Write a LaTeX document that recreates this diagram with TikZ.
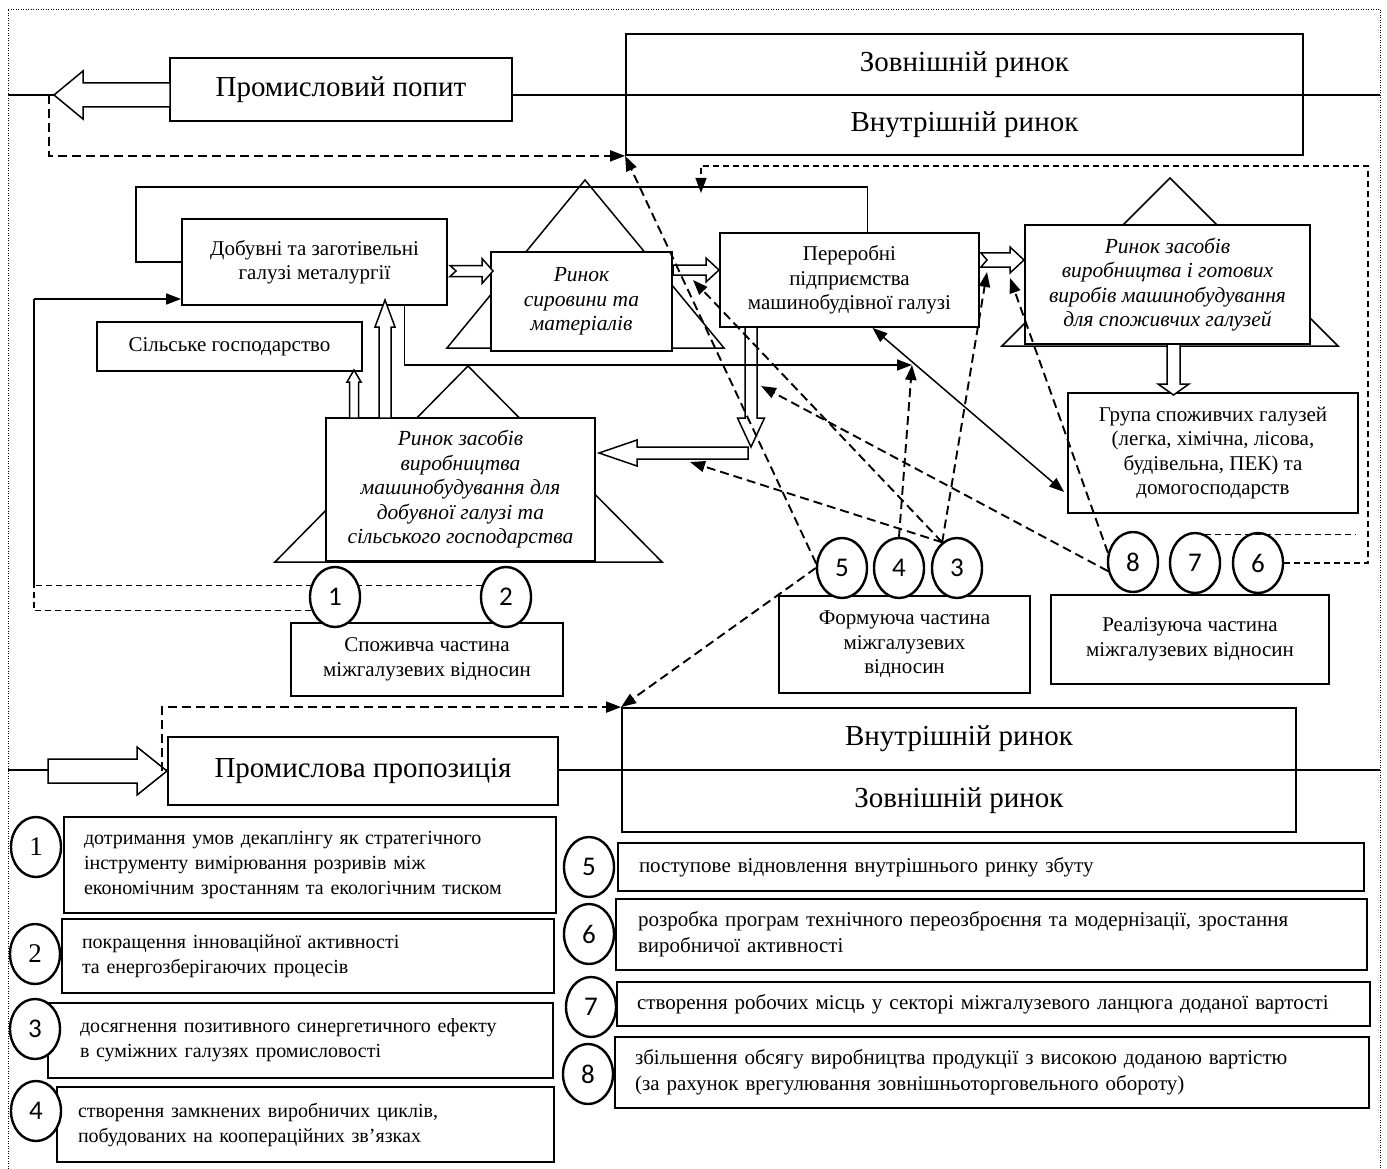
\documentclass[tikz,border=0pt]{standalone}
\usepackage{fontspec}
\setmainfont{Liberation Serif}
\newfontfamily\numfont{Carlito}
\usetikzlibrary{shapes.geometric,arrows.meta,calc,backgrounds}

\tikzset{
  box/.style={draw, line width=1.8pt, fill=white, align=center, inner sep=3pt},
  ttl/.style={font=\fontsize{29}{34}\selectfont},
  txt/.style={font=\fontsize{21}{24.5}\selectfont},
  itx/.style={font=\fontsize{21.5}{24.5}\selectfont\itshape},
  lgd/.style={draw, line width=1.8pt, fill=white, align=left, inner xsep=20pt, font=\fontsize{20}{25}\selectfont},
  lgdr/.style={lgd, font=\fontsize{21}{26}\selectfont},
  num/.style={draw, ellipse, line width=2.4pt, fill=white, minimum width=50pt, minimum height=60pt, inner sep=0pt, font=\numfont\fontsize{27}{27}\selectfont},
  dsh/.style={line width=1.9pt, dash pattern=on 9pt off 5pt},
  thn/.style={line width=1.3pt, dash pattern=on 6pt off 4pt},
  tip/.style={-{Triangle[length=15pt,width=11pt]}},
  hollow/.style={draw, line width=1.5pt, fill=white, line join=miter},
  mkt/.style={line width=1.5pt},
}
% hollow arrows: tail, head back, tip, axis, shaft half, head half (, tail notch)
\newcommand{\harr}[7]{\draw[hollow] (#1,#4-#5) -- (#2,#4-#5) -- (#2,#4-#6) -- (#3,#4) -- (#2,#4+#6) -- (#2,#4+#5) -- (#1,#4+#5) -- (#1+#7,#4) -- cycle;}
\newcommand{\varr}[6]{\draw[hollow] (#4-#5,#1) -- (#4-#5,#2) -- (#4-#6,#2) -- (#4,#3) -- (#4+#6,#2) -- (#4+#5,#2) -- (#4+#5,#1) -- cycle;}

\begin{document}
\begin{tikzpicture}[x=1pt,y=-1pt]
\useasboundingbox (0,0) rectangle (1387,1169);

% Frame
\draw[line width=0.8pt, dash pattern=on 1pt off 1.5pt] (8,1169) -- (8,9) -- (1380,9) -- (1380,1169);

% Axes
\draw[line width=1.5pt] (8,95) -- (1380,95);
\draw[line width=1.5pt] (8,770) -- (1380,770);

% Markets
\draw[mkt] (447,348) -- (585,180) -- (724,348) -- cycle;
\draw[mkt] (1002,346) -- (1170,178) -- (1338,346) -- cycle;
\draw[mkt] (275,562) -- (468,366) -- (662,562) -- cycle;

% Boxes
\node[box, ttl, minimum width=342pt, minimum height=63pt] (popyt) at (341,89.5) {Промисловий попит};
\node[box, ttl, minimum width=677pt, minimum height=61pt] (zov1) at (964.5,64.5) {Зовнішній ринок};
\node[box, ttl, minimum width=677pt, minimum height=60pt] (vnu1) at (964.5,125) {Внутрішній ринок};
\node[box, txt, minimum width=265pt, minimum height=86pt] (dob) at (314.5,262) {Добувні та заготівельні\\галузі металургії};
\node[box, txt, minimum width=265pt, minimum height=49pt] (sil) at (229.5,346.5) {Сільське господарство};
\node[box, itx, minimum width=181pt, minimum height=99pt] (syr) at (581.5,301.5) {Ринок\\сировини та\\матеріалів};
\node[box, txt, minimum width=259pt, minimum height=94pt] (per) at (849.5,280) {Переробні\\підприємства\\машинобудівної галузі};
\node[box, itx, minimum width=285pt, minimum height=119pt] (cons) at (1167.5,284.5) {Ринок засобів\\виробництва і готових\\виробів машинобудування\\для споживчих галузей};
\node[box, txt, minimum width=290pt, minimum height=120pt] (grp) at (1213,453) {Група споживчих галузей\\(легка, хімічна, лісова,\\будівельна, ПЕК) та\\домогосподарств};
\node[box, itx, minimum width=269pt, minimum height=143pt] (ext) at (460.5,489.5) {Ринок засобів\\виробництва\\машинобудування для\\добувної галузі та\\сільського господарства};
\node[box, txt, minimum width=272pt, minimum height=73pt] (spozh) at (427,659.5) {Споживча частина\\міжгалузевих відносин};
\node[box, txt, minimum width=251pt, minimum height=97pt] (form) at (904.5,644.5) {Формуюча частина\\міжгалузевих\\відносин};
\node[box, txt, minimum width=278pt, minimum height=89pt] (real) at (1190,639.5) {Реалізуюча частина\\міжгалузевих відносин};
\node[box, ttl, minimum width=390pt, minimum height=68pt] (prop) at (363,771) {Промислова пропозиція};
\node[box, ttl, minimum width=674pt, minimum height=62pt] (vnu2) at (959,739) {Внутрішній ринок};
\node[box, ttl, minimum width=674pt, minimum height=62pt] (zov2) at (959,801) {Зовнішній ринок};

% Hollow arrows
\harr{170}{83}{54}{95}{12}{24}{0}
\harr{450}{482}{493}{271}{5.5}{12.5}{6}
\harr{673}{706}{719}{270}{5}{12}{0}
\harr{981}{1010}{1024}{260}{7}{13}{6}
\varr{344}{384}{395}{1173.5}{6.5}{15.5}
\varr{327}{418}{447}{751}{6}{13.5}
\harr{748}{637}{599}{453}{6}{13}{0}
\varr{418}{382}{370}{354}{4.5}{7}
\varr{418}{327}{300}{385}{6}{10}
\harr{48}{137}{167}{771}{12}{24}{0}

% Points on the flows
\coordinate (pp) at (49,95);
\coordinate (lft) at (34,299);
\coordinate (m4) at (912,365);
\coordinate (h3) at (693,280);
\coordinate (h4a) at (987,272);
\coordinate (h4b) at (1010,278);
\coordinate (h6) at (761,386);
\coordinate (h7) at (690,462);
\coordinate (rt) at (1368,166);
\coordinate (dn) at (701,193);
\coordinate (r7) at (1356,538);
\coordinate (pr) at (162,771);

% Solid links
\draw[line width=1.5pt] (dob.west) -| (136,187) -| ($(per.north)+(18,0)$);
\draw[tip, line width=1.5pt] ($(dob.south)+(90,0)$) |- (m4);
\draw[tip, line width=1.5pt] (lft) -- (lft -| dob.west);
\draw[{Triangle[length=15pt,width=11pt]}-{Triangle[length=15pt,width=11pt]}, line width=1.5pt] ($(per.south)+(23,0)$) -- ($(grp.west)+(-3,39)$);

% Circles
\node[num] (c1) at (335,597) {1};
\node[num] (c2) at (506,597) {2};
\node[num] (c5) at (842,568) {5};
\node[num] (c4) at (899,568) {4};
\node[num] (c3) at (957,568) {3};
\node[num] (c8) at (1133,562) {8};
\node[num] (c7) at (1195,563) {7};
\node[num] (c6) at (1258,563) {6};

% Dashed links
\draw[dsh, tip] (pp) |- (vnu1.south west);
\draw[dsh, tip] (c5.170) -- (vnu1.south west);
\draw[dsh, tip] (c5.west) -- (vnu2.north west);
\draw[dsh, tip] (pr) |- (vnu2.north west);
\draw[dsh, tip] (c4.north) -- (m4);
\draw[dsh, tip] (c3.120) -- (h7);
\draw[dsh, tip] (c3.120) -- (h4a);
\draw[dsh, tip] (c3.120) -- (h3);
\draw[dsh, tip] (c8.200) -- (h6);
\draw[dsh, tip] (c8.160) -- (h4b);
\draw[thn, tip] (c6.east) -| (rt) -| (dn);
\draw[thn] (c7.70) -- (c7.70 -| r7);
\begin{scope}[on background layer]
\draw[thn] (c2.155) -| (lft);
\draw[thn] (c1.210) -| (lft);
\end{scope}

% Legend
\node[lgd, text width=452pt, minimum height=96pt] (t1) at (310,865) {дотримання умов декаплінгу як стратегічного\\інструменту вимірювання розривів між\\економічним зростанням та екологічним тиском};
\node[lgd, text width=452pt, minimum height=74pt] (t2) at (308,956) {покращення інноваційної активності\\та енергозберігаючих процесів};
\node[lgd, inner xsep=32pt, text width=441pt, minimum height=75pt] (t3) at (300.5,1040.5) {досягнення позитивного синергетичного ефекту\\в суміжних галузях промисловості};
\node[lgd, inner xsep=21pt, text width=455pt, minimum height=75pt] (t4) at (305.5,1124.5) {створення замкнених виробничих циклів,\\побудованих на коопераційних зв’язках};
\node[lgdr, inner xsep=21pt, text width=704pt, minimum height=48pt] (t5) at (991,867) {поступове відновлення внутрішнього ринку збуту};
\node[lgdr, inner xsep=22pt, text width=707pt, minimum height=71pt] (t6) at (991.5,934.5) {розробка програм технічного переозброєння та модернізації, зростання\\виробничої активності};
\node[lgdr, text width=713pt, minimum height=44pt] (t7) at (993.5,1004) {створення робочих місць у секторі міжгалузевого ланцюга доданої вартості};
\node[lgdr, text width=714pt, minimum height=71pt] (t8) at (992,1072.5) {збільшення обсягу виробництва продукції з високою доданою вартістю\\(за рахунок врегулювання зовнішньоторговельного обороту)};

\node[num, font=\fontsize{27}{27}\selectfont] (n1) at (36,847) {1};
\node[num, font=\fontsize{27}{27}\selectfont] (n2) at (35,954) {2};
\node[num] (n3) at (35,1029) {3};
\node[num] (n4) at (36,1111) {4};
\node[num] (n5) at (589,867) {5};
\node[num] (n6) at (589,934) {6};
\node[num] (n7) at (591,1007) {7};
\node[num] (n8) at (588,1074) {8};
\end{tikzpicture}
\end{document}
